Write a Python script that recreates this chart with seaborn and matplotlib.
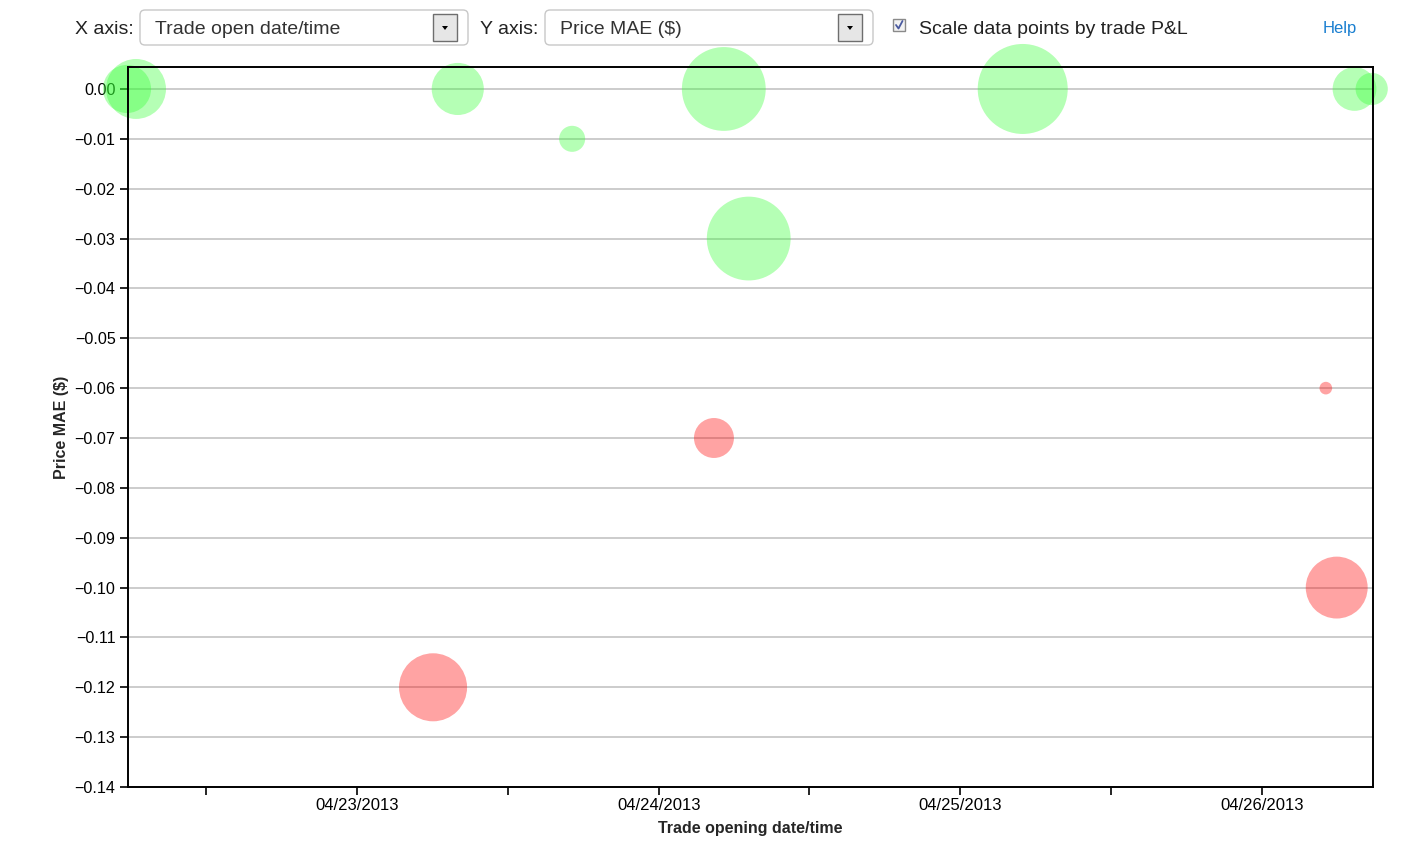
import pandas as pd
import numpy as np
import matplotlib.pyplot as plt
import matplotlib.dates as mdates
from matplotlib.patches import FancyBboxPatch, Rectangle, Polygon
from matplotlib.ticker import FuncFormatter, MultipleLocator
import seaborn as sns

# trades: open time, price MAE, P&L
open_times = ["2013-04-22 05:42", "2013-04-22 06:25", "2013-04-23 06:03",
              "2013-04-23 08:01", "2013-04-23 17:07", "2013-04-24 04:24",
              "2013-04-24 05:11", "2013-04-24 07:10", "2013-04-25 04:58",
              "2013-04-26 05:05", "2013-04-26 05:57", "2013-04-26 07:22",
              "2013-04-26 08:44"]
price_mae = [0.00, 0.00, -0.12, 0.00, -0.01, -0.07, 0.00, -0.03, 0.00,
             -0.06, -0.10, 0.00, 0.00]
trade_pnl = [58, 90, -116, 68, 17, -40, 176, 176, 203, -4, -96, 48, 26]

df = pd.DataFrame({"open": pd.to_datetime(open_times),
                   "mae": price_mae,
                   "pnl": trade_pnl})
df["abs_pnl"] = df["pnl"].abs()
df["result"] = np.where(df["pnl"] >= 0, "win", "loss")

sns.set_style("white")
plt.rcParams['font.family'] = ['Liberation Sans', 'DejaVu Sans']

fig = plt.figure(figsize=(14.26, 8.66), dpi=100)
ax = fig.add_axes([0.0898, 0.0912, 0.873, 0.8314])

max_pnl = df["abs_pnl"].max()
max_area = (1.44 * 45) ** 2
sns.scatterplot(data=df, x="open", y="mae", hue="result",
                palette={"win": "#33ff33", "loss": "#ff0000"},
                hue_order=["win", "loss"],
                size="abs_pnl", sizes=(0, max_area), size_norm=(0, max_pnl),
                alpha=0.36, linewidth=0, legend=False, clip_on=False,
                zorder=2, ax=ax)

ax.set_xlim(pd.Timestamp("2013-04-22 05:47"), pd.Timestamp("2013-04-26 08:50"))
ax.set_ylim(-0.14, 0.0044)

ax.yaxis.set_major_locator(MultipleLocator(0.01))
ax.yaxis.set_major_formatter(FuncFormatter(
    lambda v, p: "0.00" if abs(v) < 1e-9 else f"{v:.2f}".replace("-", "\u2212")))
ax.xaxis.set_major_locator(mdates.DayLocator())
ax.xaxis.set_minor_locator(mdates.HourLocator(byhour=[12]))
ax.xaxis.set_major_formatter(mdates.DateFormatter("%m/%d/%Y"))

ax.grid(axis="y", color="#cccccc", linewidth=1.4, zorder=1)
ax.set_axisbelow(True)
ax.tick_params(axis="both", which="both", direction="out", length=6,
               width=1.2, color="black", labelcolor="black",
               left=True, bottom=True)
ax.tick_params(axis="x", labelsize=12, pad=2)
ax.tick_params(axis="y", labelsize=11.6, pad=3)
for sp in ax.spines.values():
    sp.set_color("black")
    sp.set_linewidth(1.4)
    sp.set_zorder(3)

ax.set_xlabel("Trade opening date/time", fontsize=11.5, fontweight="bold", labelpad=6)
ax.set_ylabel("Price MAE ($)", fontsize=11.5, fontweight="bold", labelpad=4)

# controls bar above the chart
ui = fig.add_axes([0, 0, 1, 1], zorder=-1)
ui.set_xlim(0, 1426)
ui.set_ylim(866, 0)
ui.axis("off")

def dropdown(x0, x1, label):
    ui.add_patch(FancyBboxPatch((x0, 10), x1 - x0, 35,
                                boxstyle="round,pad=0,rounding_size=5",
                                facecolor="white", edgecolor="#c8c8c8", lw=1))
    ui.add_patch(Rectangle((x1 - 35, 14), 24, 27, facecolor="#e6e6e6",
                           edgecolor="#6e6e6e", lw=1))
    bx = x1 - 23
    ui.add_patch(Polygon([(bx - 3, 26), (bx + 3, 26), (bx, 30)],
                         closed=True, facecolor="black", edgecolor="none"))
    ui.text(x0 + 15, 30, label, fontsize=14, color="#333333", va="center")

ui.text(75, 30, "X axis:", fontsize=14, color="#222222", va="center")
dropdown(140, 468, "Trade open date/time")
ui.text(480, 30, "Y axis:", fontsize=14, color="#222222", va="center")
dropdown(545, 873, "Price MAE ($)")

ui.add_patch(Rectangle((893, 19), 12, 12, facecolor="#f2f2f2",
                       edgecolor="#8a8a8a", lw=1))
ui.plot([896, 898.5, 902.5], [25, 28.5, 21], color="#4a5aa0", lw=1.3)
ui.text(919, 30, "Scale data points by trade P&L", fontsize=14,
        color="#222222", va="center")
ui.text(1323, 29, "Help", fontsize=12, color="#1a7fd0", va="center")

fig.savefig("out.png", dpi=100)
